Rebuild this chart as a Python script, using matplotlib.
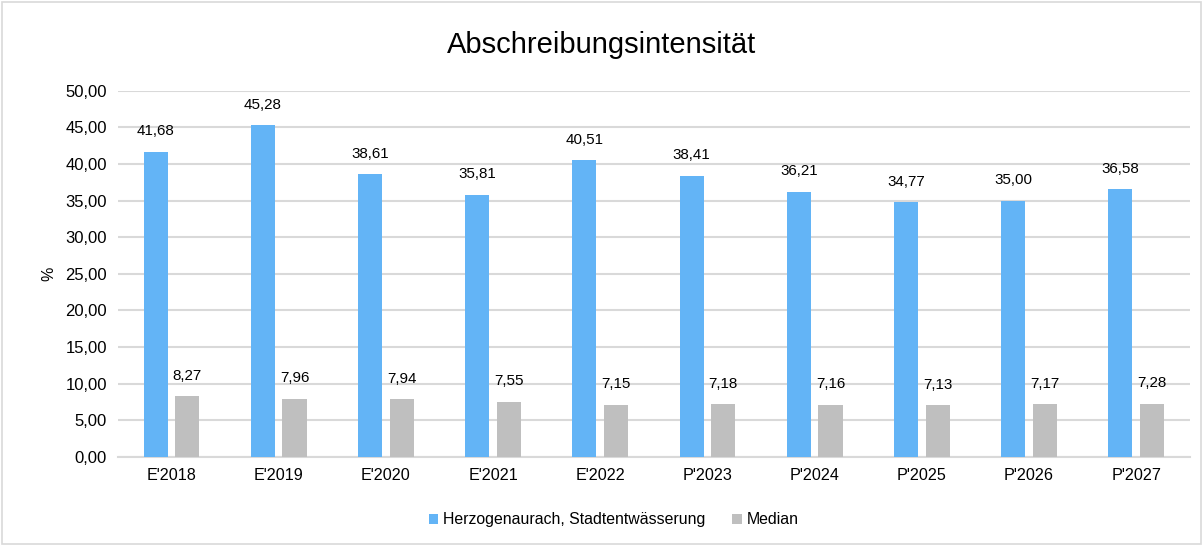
import numpy as np
import matplotlib.pyplot as plt
from matplotlib.patches import Rectangle

plt.rcParams['font.family'] = ['Liberation Sans', 'DejaVu Sans']

categories = ["E'2018", "E'2019", "E'2020", "E'2021", "E'2022",
              "P'2023", "P'2024", "P'2025", "P'2026", "P'2027"]
herzogenaurach = [41.68, 45.28, 38.61, 35.81, 40.51, 38.41, 36.21, 34.77, 35.00, 36.58]
median = [8.27, 7.96, 7.94, 7.55, 7.15, 7.18, 7.16, 7.13, 7.17, 7.28]
series_names = ["Herzogenaurach, Stadtentwässerung", "Median"]

def fmt(v):
    return ('%.2f' % v).replace('.', ',')

fig = plt.figure(figsize=(12.03, 5.46), dpi=100)
fig.patches.append(Rectangle((0.002, 0.004), 0.996, 0.992, transform=fig.transFigure,
                             fill=False, edgecolor='#D9D9D9', linewidth=1.2))
ax = fig.add_axes([0.098, 0.163, 0.891, 0.671])

x = np.arange(len(categories))
w = 0.225
b1 = ax.bar(x - 0.148, herzogenaurach, w, color='#63B4F6', label=series_names[0], zorder=3)
b2 = ax.bar(x + 0.148, median, w, color='#BFBFBF', label=series_names[1], zorder=3)

for rect, v in zip(b1, herzogenaurach):
    ax.text(rect.get_x() + rect.get_width() / 2, v + 1.8, fmt(v), ha='center', va='bottom', fontsize=10.9)
for rect, v in zip(b2, median):
    ax.text(rect.get_x() + rect.get_width() / 2, v + 1.8, fmt(v), ha='center', va='bottom', fontsize=10.9)

ax.set_ylim(0, 50)
ax.set_xlim(-0.5, len(categories) - 0.5)
ax.set_yticks(np.arange(0, 51, 5))
ax.set_yticklabels([fmt(t) for t in np.arange(0, 51, 5)], fontsize=12)
ax.set_xticks(x)
ax.set_xticklabels(categories, fontsize=11.6)
ax.tick_params(length=0, pad=8)
ax.grid(axis='y', color='#D9D9D9', linewidth=1.5, zorder=0)
for s in ['top', 'right', 'left']:
    ax.spines[s].set_visible(False)
ax.spines['bottom'].set_color('#D9D9D9')
ax.spines['bottom'].set_linewidth(1.5)
ax.set_ylabel('%', fontsize=11.5, labelpad=6)

fig.text(0.5, 0.918, 'Abschreibungsintensität', ha='center', va='center', fontsize=21)
fig.legend(loc='center', bbox_to_anchor=(0.51, 0.048), ncol=2, frameon=False,
           fontsize=11.4, handlelength=0.6, handleheight=0.6, handletextpad=0.3, columnspacing=1.7)

plt.savefig('out.png', dpi=100)
